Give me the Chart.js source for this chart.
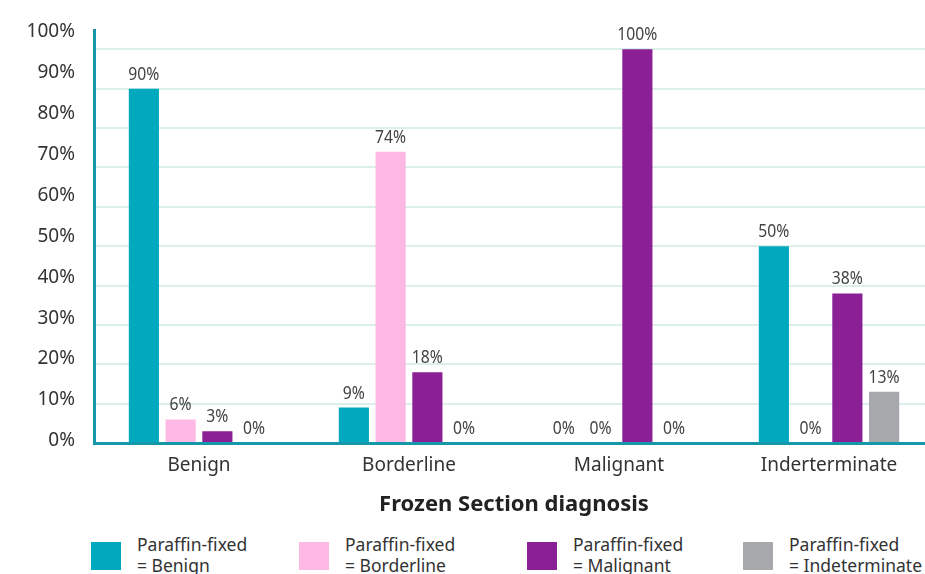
<!DOCTYPE html>
<html>
<head>
<meta charset="utf-8">
<script src="https://cdn.jsdelivr.net/npm/chart.js"></script>
<style>
  html, body { margin: 0; padding: 0; background: #fff; overflow: hidden; width: 925px; height: 574px; }
  #wrap { position: relative; width: 935px; height: 519px; }
  #legend { position: absolute; top: 534px; left: 0; width: 980px; height: 40px;
            font-family: 'Noto Sans', sans-serif; font-size: 17.5px; color: #333; }
  .item { position: absolute; top: 0; display: flex; }
  .box { width: 30px; height: 28px; margin-top: 8px; margin-right: 16px; }
  .txt { line-height: 21px; white-space: nowrap; }
</style>
</head>
<body>
<div id="wrap"><canvas id="chart" width="935" height="519"></canvas></div>
<div id="legend"></div>
<script>
// data
const categories = ['Benign', 'Borderline', 'Malignant', 'Inderterminate'];
const seriesNames = ['Benign', 'Borderline', 'Malignant', 'Indeterminate'];
const benignValues = [90, 9, 0, 50];
const borderlineValues = [6, 74, 0, 0];
const malignantValues = [3, 18, 100, 38];
const indeterminateValues = [0, 0, 0, 13];
const tickValues = [0, 10, 20, 30, 40, 50, 60, 70, 80, 90, 100];

const colors = ['#00a9bd', '#fdb9e3', '#8a1f96', '#a7a8ac'];
const legendLeft = [91, 299, 527, 743];
const axisColor = '#1598aa';

const seriesValues = [benignValues, borderlineValues, malignantValues, indeterminateValues];

// value labels above each bar (squeezed to look condensed)
const valueLabels = {
    id: 'valueLabels',
    afterDatasetsDraw(chart) {
        const ctx = chart.ctx;
        ctx.save();
        ctx.font = "18.5px 'Noto Sans', sans-serif";
        ctx.fillStyle = '#444';
        ctx.textAlign = 'center';
        ctx.textBaseline = 'bottom';
        chart.data.datasets.forEach((ds, i) => {
            chart.getDatasetMeta(i).data.forEach((bar, j) => {
                ctx.save();
                ctx.translate(bar.x, bar.y - 5);
                ctx.scale(0.85, 1);
                ctx.fillText(ds.data[j] + '%', 0, 0);
                ctx.restore();
            });
        });
        ctx.restore();
    }
};

const tickFont = { family: "'Noto Sans', sans-serif", size: 19 };

new Chart(document.getElementById('chart'), {
    type: 'bar',
    data: {
        labels: categories,
        datasets: seriesValues.map((vals, i) => ({
            label: 'Paraffin-fixed = ' + seriesNames[i],
            data: vals,
            backgroundColor: colors[i],
            categoryPercentage: 0.70,
            barPercentage: 0.82,
            yAxisID: 'y'
        }))
    },
    options: {
        responsive: false,
        animation: false,
        devicePixelRatio: 1,
        layout: { padding: { top: 23, right: 1, left: 0, bottom: 0 } },
        plugins: {
            legend: { display: false },
            tooltip: { enabled: false }
        },
        scales: {
            x: {
                grid: { display: false, drawTicks: false },
                border: { color: axisColor, width: 3 },
                ticks: { padding: 11, font: tickFont, color: '#333' },
                title: {
                    display: true,
                    text: 'Frozen Section diagnosis',
                    color: '#222',
                    font: { family: "'Noto Sans', sans-serif", size: 22, weight: 'bold' },
                    padding: { top: 0, bottom: 1 }
                },
                afterFit: s => { s.height = 76; }
            },
            y: {
                position: 'left',
                weight: 0,
                min: 0,
                max: 104.8,
                ticks: { display: false, stepSize: 10 },
                grid: { color: '#dcefea', lineWidth: 2, drawTicks: false },
                border: { color: axisColor, width: 3 },
                afterBuildTicks: s => { s.ticks = s.ticks.filter(t => t.value % 10 === 0); },
                afterFit: s => { s.width = 0; }
            },
            y2: {
                type: 'linear',
                position: 'left',
                weight: 1,
                min: -0.5,
                max: 100.3,
                grid: { display: false, drawTicks: false },
                border: { display: false },
                ticks: { padding: 19, font: tickFont, color: '#333', callback: v => v + '%' },
                afterBuildTicks: s => { s.ticks = tickValues.map(v => ({ value: v })); },
                afterFit: s => { s.width = 94; }
            }
        }
    },
    plugins: [valueLabels]
});

// html legend
const legend = document.getElementById('legend');
seriesNames.forEach((name, i) => {
    const item = document.createElement('div');
    item.className = 'item';
    item.style.left = legendLeft[i] + 'px';
    item.innerHTML = '<div class="box" style="background:' + colors[i] + '"></div>' +
        '<div class="txt">Paraffin-fixed<br>= ' + name + '</div>';
    legend.appendChild(item);
});
</script>
</body>
</html>
